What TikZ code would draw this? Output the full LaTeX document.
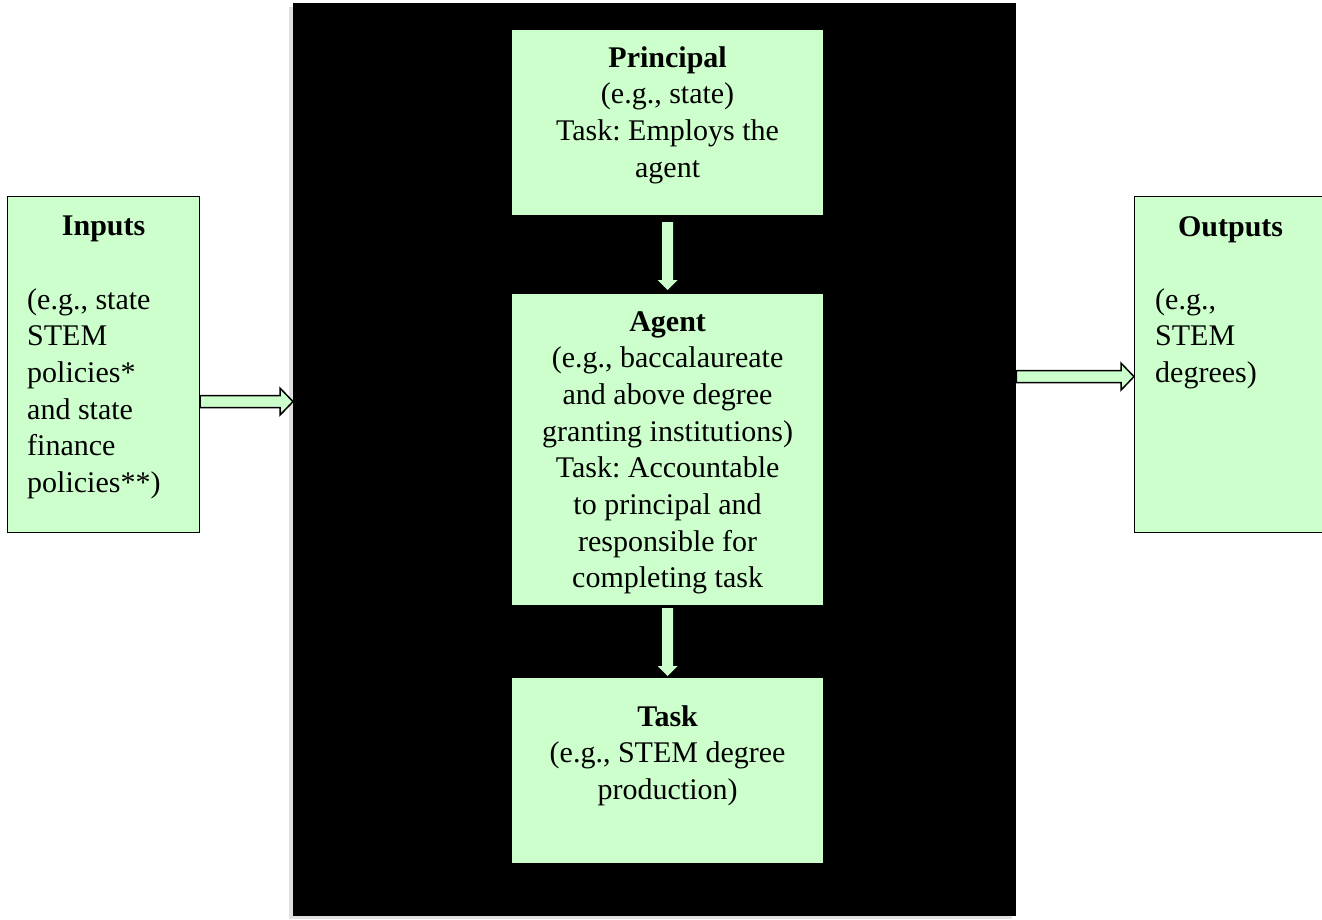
\documentclass[tikz,border=0pt]{standalone}
\usepackage{fontspec}
\setmainfont{Liberation Serif}
\usetikzlibrary{calc}
\definecolor{lgreen}{RGB}{204,255,204}
\tikzset{
  gbox/.style={draw=#1, fill=lgreen, line width=1.2pt, inner sep=0pt, minimum width=310pt},
  sidebox/.style={draw=black, fill=lgreen, line width=1.2pt, inner sep=0pt, minimum width=192pt, minimum height=336pt},
  txt/.style={inner sep=0pt, font=\fontsize{30}{36.7}\selectfont\frenchspacing},
  harr/.style={draw=black, fill=lgreen, line width=1.5pt, line join=miter},
  varr/.style={draw=none, fill=lgreen},
  shad/.style={fill=black!18, draw=none}
}
\newcommand\harrowshape[3]{% tail, tip, style
  \path[#3] let \p1=(#1), \p2=(#2) in
    (\x1,\y1+6pt) -- (\x2-13pt,\y1+6pt) -- (\x2-13pt,\y1+13.5pt) -- (\x2,\y1)
    -- (\x2-13pt,\y1-13.5pt) -- (\x2-13pt,\y1-6pt) -- (\x1,\y1-6pt) -- cycle;}
\newcommand\varrowshape[3]{% tail, tip, style
  \path[#3] let \p1=(#1), \p2=(#2) in
    (\x1-5.5pt,\y1) -- (\x1-5.5pt,\y2+10pt) -- (\x1-10pt,\y2+10pt) -- (\x1,\y2)
    -- (\x1+10pt,\y2+10pt) -- (\x1+5.5pt,\y2+10pt) -- (\x1+5.5pt,\y1) -- cycle;}
\begin{document}
\begin{tikzpicture}[x=1pt,y=-1pt]
\useasboundingbox (0,0) rectangle (1322,919);
\fill[white] (0,0) rectangle (1322,919);
% background black panel
\fill[black!12] (289,7) rectangle (1012,919);
\node[fill=black, inner sep=0pt, minimum width=723pt, minimum height=913pt, anchor=north west] (bg) at (293,3) {};
% inner boxes
\node[gbox=lgreen, minimum height=184pt, anchor=north west] (pri) at (512,30) {};
\node[gbox=lgreen, minimum height=310pt, anchor=north west] (agt) at (512,294) {};
\node[gbox=lgreen, minimum height=184pt, anchor=north west] (tsk) at (512,678) {};
% side boxes
\node[sidebox, anchor=north west] (inp) at (7,196) {};
\node[sidebox, anchor=north west] (out) at (1134,196) {};
% texts
\node[txt, align=center, anchor=north] (priT) at ($(pri.north)+(0,16)$)
  {\textbf{Principal}\\(e.g., state)\\Task: Employs the\\agent};
\node[txt, align=center, anchor=north] (agtT) at ($(agt.north)+(0,17)$)
  {\textbf{Agent}\\(e.g., baccalaureate\\and above degree\\granting institutions)\\Task: Accountable\\to principal and\\responsible for\\completing task};
\node[txt, align=center, anchor=north] (tskT) at ($(tsk.north)+(0,27)$)
  {\textbf{Task}\\(e.g., STEM degree\\production)};
\node[txt, anchor=north] (inpH) at ($(inp.north)+(0,20)$) {\textbf{Inputs}};
\node[txt, align=left, anchor=north west] (inpT) at ($(inp.north west)+(20,92)$)
  {(e.g., state\\STEM\\policies*\\and state\\finance\\policies**)};
\node[txt, anchor=north] (outH) at ($(out.north)+(0,20)$) {\textbf{Outputs}};
\node[txt, align=left, anchor=north west] (outT) at ($(out.north west)+(21,92)$)
  {(e.g.,\\STEM\\degrees)};
% connector coordinates
\coordinate (a1t) at ($(inp.east)+(0,37)$);
\coordinate (a1h) at (bg.west |- a1t);
\coordinate (a2h) at ($(out.west)+(0,12)$);
\coordinate (a2t) at (bg.east |- a2h);
\coordinate (d1t) at ($(pri.south)+(0,7)$);
\coordinate (d1h) at ($(agt.north)+(0,-4)$);
\coordinate (d2t) at ($(agt.south)+(0,3)$);
\coordinate (d2h) at ($(tsk.north)+(0,-2)$);
% shadows of horizontal arrows
\begin{scope}[shift={(3,6)}]
\harrowshape{a1t}{a1h}{shad}
\harrowshape{a2t}{a2h}{shad}
\end{scope}
\harrowshape{a1t}{a1h}{harr}
\harrowshape{a2t}{a2h}{harr}
\varrowshape{d1t}{d1h}{varr}
\varrowshape{d2t}{d2h}{varr}
\end{tikzpicture}
\end{document}
